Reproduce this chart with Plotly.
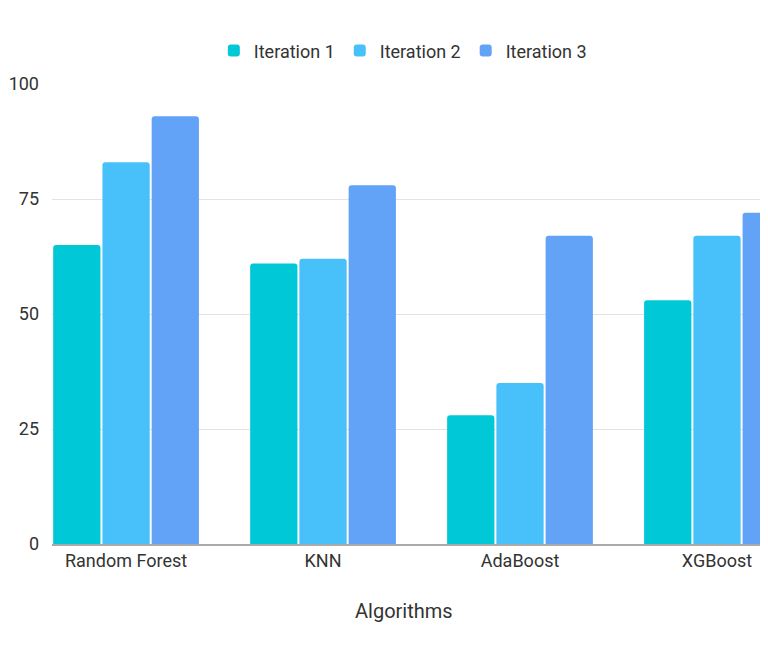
import plotly.graph_objects as go

algorithms = ["Random Forest", "KNN", "AdaBoost", "XGBoost"]
series_names = ["Iteration 1", "Iteration 2", "Iteration 3"]
iter1 = [65, 61, 28, 53]
iter2 = [83, 62, 35, 67]
iter3 = [93, 78, 67, 72]
y_ticks = [0, 25, 50, 75, 100]
colors = ["#00C8D7", "#48C1FA", "#62A3F8"]

fig = go.Figure()
for name, vals, col in zip(series_names, [iter1, iter2, iter3], colors):
    fig.add_trace(go.Bar(
        x=algorithms, y=vals, name=name,
        marker=dict(color=col, cornerradius=3, line=dict(width=0)),
    ))

font_family = "Roboto, 'Open Sans', sans-serif"
# page body has an 8px margin; figure occupies x 8..768, y 8..643
fig.update_layout(
    width=760, height=635,
    margin=dict(l=44, r=0, t=76, b=99),
    paper_bgcolor="white", plot_bgcolor="white",
    barmode="group", bargap=0.25, bargroupgap=0.04,
    font=dict(family=font_family, size=18, color="#333333"),
    showlegend=True,
    legend=dict(orientation="h", x=0.49, xanchor="center", y=1.072, yanchor="middle",
                font=dict(size=18, color="#333333"), itemwidth=30, itemsizing="constant",
                traceorder="normal"),
    xaxis=dict(range=[-0.376, 3.259], showgrid=False, showline=True, linecolor="#AAAAAA",
               linewidth=1.5, ticks="", tickfont=dict(size=18, color="#333333"), fixedrange=True),
    yaxis=dict(range=[0, 100], tickvals=y_ticks, showgrid=True, gridcolor="#E3E3E3",
               gridwidth=1, zeroline=False, showline=False, ticks="",
               ticklabelstandoff=12, tickfont=dict(size=18, color="#333333")),
)
fig.add_annotation(text="Algorithms", xref="paper", yref="paper",
                   x=(404 - 52) / 716, y=-67 / 460, xanchor="center", yanchor="middle",
                   showarrow=False, font=dict(size=20, color="#333333"))

fig.write_html("out.html")
